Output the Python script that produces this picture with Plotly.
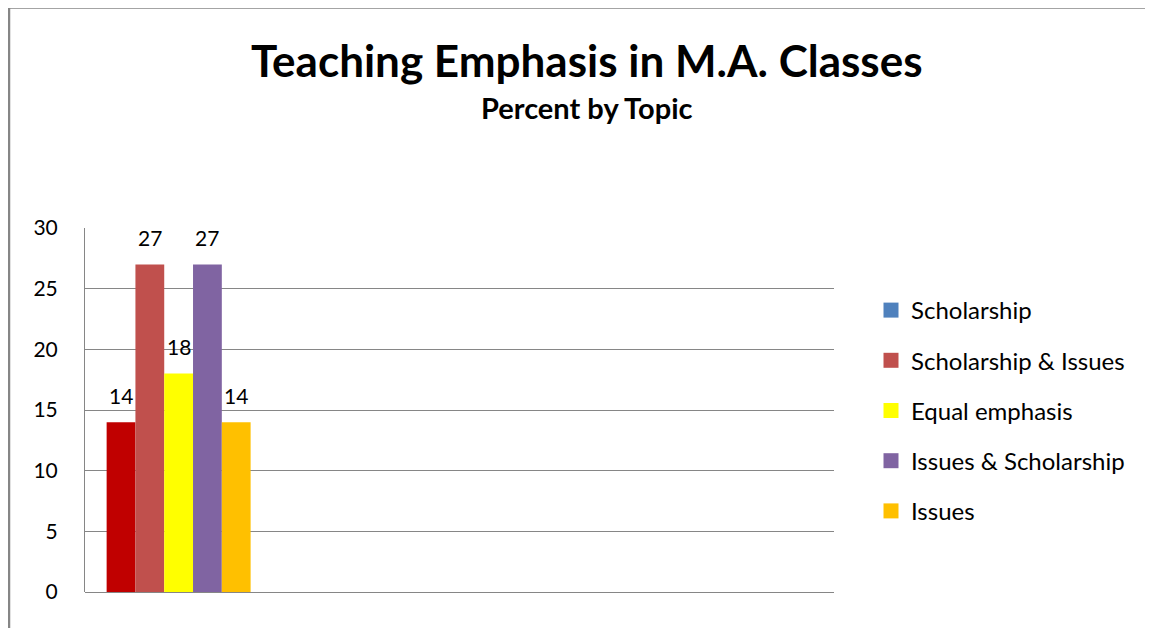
import plotly.graph_objects as go

# ---- data ----
series_names = ["Scholarship", "Scholarship & Issues", "Equal emphasis",
                "Issues & Scholarship", "Issues"]
values = [14, 27, 18, 27, 14]
bar_colors = ["#C00000", "#C0504D", "#FFFF00", "#8064A2", "#FFC000"]
legend_colors = ["#4F81BD", "#C0504D", "#FFFF00", "#8064A2", "#FFC000"]
n_categories = 4          # chart has 4 category slots, only the first holds data
y_ticks = [0, 5, 10, 15, 20, 25, 30]

title_text = "Teaching Emphasis in M.A. Classes"
subtitle_text = "Percent by Topic"

# ---- layout constants (figure coords; page adds 8px body margin) ----
W, H = 1145, 620
ML, MR, MT, MB = 77, 319, 220, 36
BARGAP = 0.231
FONT = "Lato, 'Open Sans', sans-serif"
GRID = "#868686"

fig = go.Figure()

# real bars (legend hidden; legend drawn by proxy traces for exact swatch colours)
for name, v, c in zip(series_names, values, bar_colors):
    fig.add_trace(go.Bar(
        x=[0], y=[v], name=name, marker=dict(color=c, line=dict(width=0)),
        showlegend=False, hoverinfo="name+y",
    ))

# legend proxies on an overlaying, invisible axis so they do not take bar slots
for i, (name, c) in enumerate(zip(series_names, legend_colors)):
    fig.add_trace(go.Scatter(
        x=[None], y=[None], name=name, mode="markers",
        marker=dict(color=c, symbol="square", size=15, line=dict(width=0)),
        xaxis="x2", showlegend=True, legendgroup=f"g{i}", legendrank=i + 1,
    ))

# data labels above bars, positioned from the grouped bar geometry
n = len(values)
group_w = 1 - BARGAP
bar_w = group_w / n
for i, v in enumerate(values):
    xc = -group_w / 2 + (i + 0.5) * bar_w
    fig.add_annotation(
        x=xc, y=v, xref="x", yref="y", text=str(v), showarrow=False,
        yanchor="middle", yshift=27,
        font=dict(family=FONT, size=21, color="#000000"),
    )

pw = W - ML - MR
ph = H - MT - MB
def px_to_paper_x(px):
    return (px - ML) / pw
def py_to_paper_y(py):
    return (H - MB - py) / ph

# title + subtitle
fig.add_annotation(
    xref="paper", yref="paper", x=px_to_paper_x(579), y=py_to_paper_y(52),
    text=f"<b>{title_text}</b>", showarrow=False, xanchor="center", yanchor="middle",
    font=dict(family=FONT, size=44, color="#000000"),
)
fig.add_annotation(
    xref="paper", yref="paper", x=px_to_paper_x(579), y=py_to_paper_y(99),
    text=f"<b>{subtitle_text}</b>", showarrow=False, xanchor="center", yanchor="middle",
    font=dict(family=FONT, size=29, color="#000000"),
)

# outer chart frame (extends beyond the viewport on right/bottom)
fig.add_shape(
    type="rect", xref="paper", yref="paper",
    x0=px_to_paper_x(1), x1=px_to_paper_x(W + 20),
    y0=py_to_paper_y(H + 20), y1=py_to_paper_y(-0.5),
    line=dict(color="#868686", width=2.5), fillcolor="rgba(0,0,0,0)", layer="below",
)

fig.update_layout(
    width=W, height=H,
    margin=dict(l=ML, r=MR, t=MT, b=MB, autoexpand=False),
    paper_bgcolor="white", plot_bgcolor="white",
    barmode="group", bargap=BARGAP, bargroupgap=0,
    font=dict(family=FONT, color="#000000"),
    xaxis=dict(
        range=[-0.5, n_categories - 0.5], showticklabels=False, showgrid=False,
        zeroline=False, showline=False, ticks="", fixedrange=True,
    ),
    xaxis2=dict(overlaying="x", visible=False, range=[0, 1]),
    yaxis=dict(
        range=[0, 30], tickvals=y_ticks, showgrid=True, gridcolor=GRID, gridwidth=1,
        zeroline=True, zerolinecolor=GRID, zerolinewidth=1,
        showline=True, linecolor=GRID, linewidth=1,
        ticks="", ticklabelstandoff=22,
        tickfont=dict(family=FONT, size=21, color="#000000"),
    ),
    legend=dict(
        x=px_to_paper_x(863), y=py_to_paper_y(280), xanchor="left", yanchor="top",
        font=dict(family=FONT, size=24, color="#000000"),
        tracegroupgap=16, itemwidth=30, bgcolor="rgba(0,0,0,0)",
        traceorder="grouped",
    ),
    showlegend=True,
)

fig.write_html("out.html")
